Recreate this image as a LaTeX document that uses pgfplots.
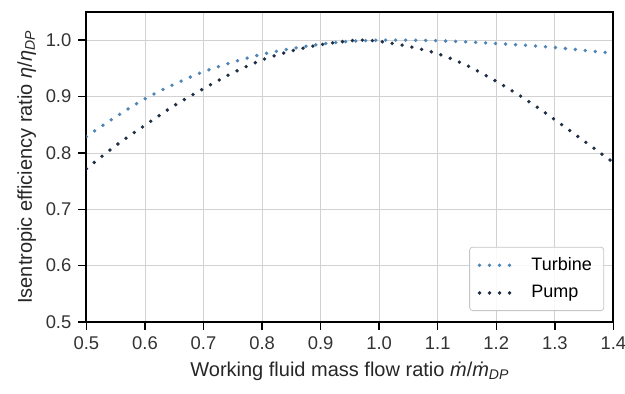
\documentclass[border=0pt]{standalone}
\usepackage{fontspec}
\setmainfont{Liberation Sans}
\usepackage{pgfplots}
\pgfplotsset{compat=1.18}
\definecolor{turb}{HTML}{4F86B6}
\definecolor{pump}{HTML}{1F2F45}
\begin{document}
\begin{tikzpicture}
\begin{axis}[
  scale only axis,
  width=263.5pt, height=155pt,
  xmin=0.5, xmax=1.4, ymin=0.5, ymax=1.05,
  xtick={0.5,0.6,...,1.4},
  ytick={0.5,0.6,...,1.0},
  xticklabel style={/pgf/number format/.cd,fixed,fixed zerofill,precision=1},
  yticklabel style={/pgf/number format/.cd,fixed,fixed zerofill,precision=1},
  /pgf/number format/assume math mode=true,
  ticklabel style={font=\fontsize{9.2}{11}\selectfont, text=black!80},
  tick align=outside,
  major tick length=4pt,
  tick style={black, line width=0.7pt},
  xtick pos=bottom, ytick pos=left,
  axis line style={black, line width=0.9pt},
  grid=major,
  major grid style={gray!35, line width=0.4pt},
  xlabel={Working fluid mass flow ratio \textit{ṁ}/\textit{ṁ}\textsubscript{\textit{DP}}},
  ylabel={Isentropic efficiency ratio \textit{η}/\textit{η}\textsubscript{\textit{DP}}},
  label style={font=\fontsize{10}{12}\selectfont, text=black!85},
  xlabel style={yshift=1pt},
  ylabel style={yshift=-2pt},
  legend style={at={(1,0)}, anchor=south east, xshift=-4.6pt, yshift=5.5pt,
    draw=gray!45, rounded corners=1.5pt, fill=white, fill opacity=0.85, text opacity=1,
    font=\fontsize{9}{10.5}\selectfont, row sep=2pt, column sep=6pt, inner xsep=4pt, inner ysep=3pt},
  legend cell align=left,
  legend image code/.code={\draw[#1] (0pt,0pt) -- (17pt,0pt);},
]
\addplot[turb, line width=1.9pt, line cap=round, dash pattern=on 0pt off 5pt, smooth] coordinates {
(0.5,0.829) (0.55,0.864) (0.6,0.896) (0.65,0.922) (0.7,0.944) (0.75,0.961) (0.8,0.975)
(0.85,0.985) (0.9,0.993) (0.95,0.998) (1.0,1.000) (1.05,1.000) (1.1,0.999) (1.15,0.997)
(1.2,0.994) (1.25,0.991) (1.3,0.987) (1.35,0.982) (1.4,0.977)};
\addlegendentry{Turbine}
\addplot[pump, line width=1.9pt, line cap=round, dash pattern=on 0pt off 5pt, smooth] coordinates {
(0.5,0.772) (0.55,0.813) (0.6,0.849) (0.65,0.884) (0.7,0.914) (0.75,0.942) (0.8,0.965)
(0.85,0.981) (0.9,0.992) (0.95,0.999) (0.975,1.000) (1.0,0.998) (1.05,0.989) (1.1,0.976)
(1.15,0.955) (1.2,0.927) (1.25,0.895) (1.3,0.859) (1.35,0.821) (1.4,0.783)};
\addlegendentry{Pump}
\end{axis}
\pgfresetboundingbox
\path[use as bounding box] (current axis.south west) ++(-43.2pt,-35.5pt) rectangle ++(312.5pt,196.5pt);
\end{tikzpicture}
\end{document}
